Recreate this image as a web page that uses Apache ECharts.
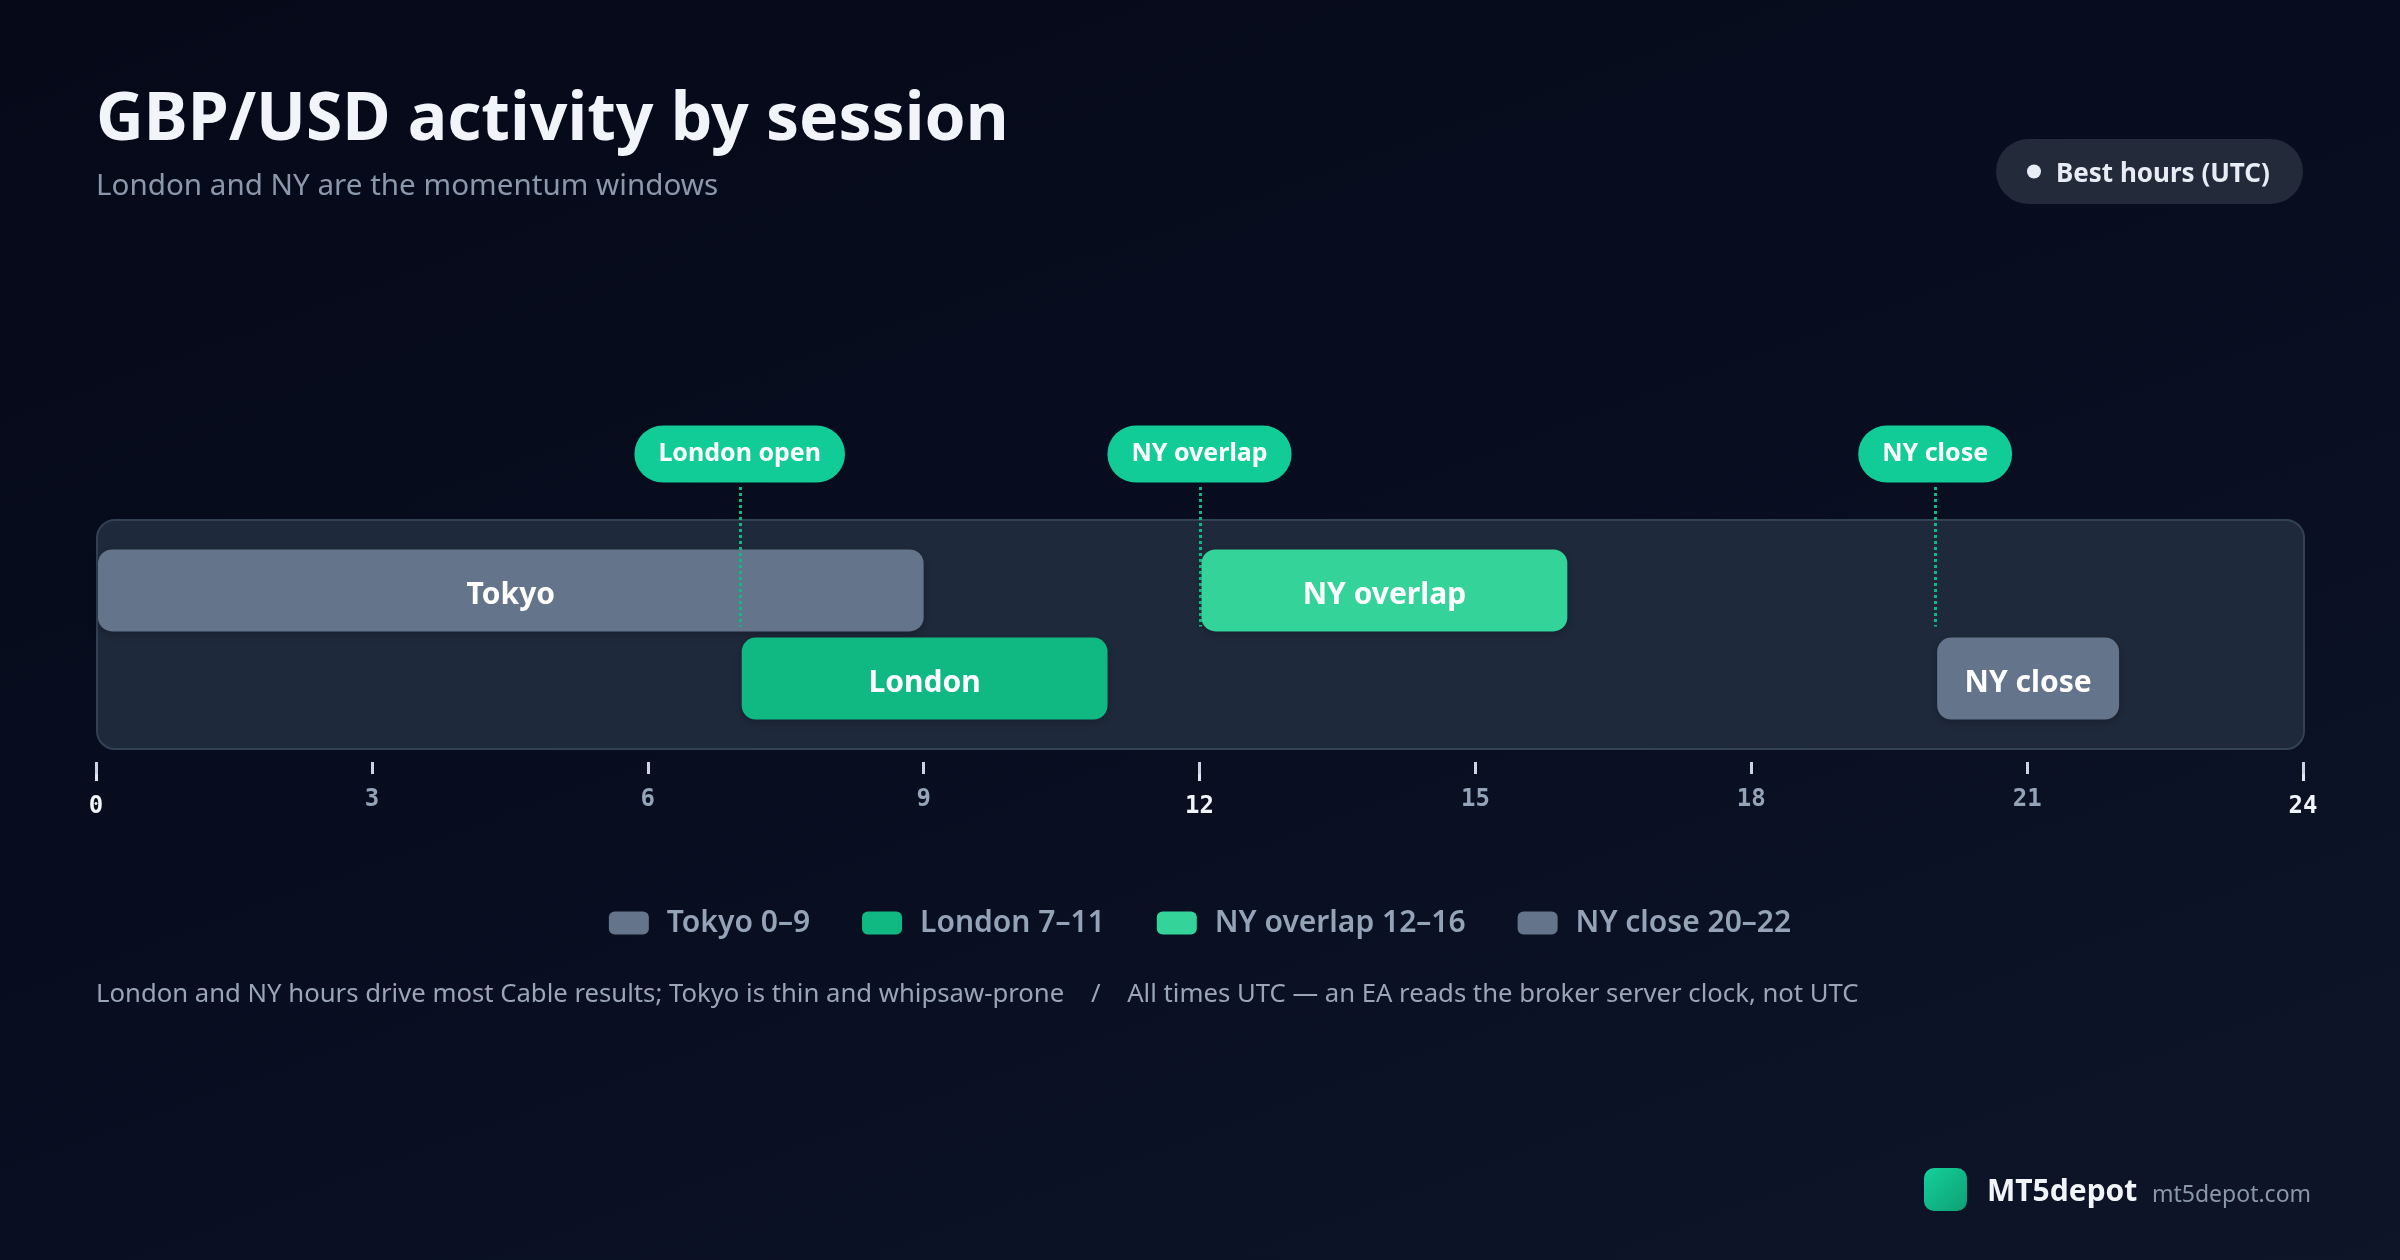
<!DOCTYPE html>
<html>
<head>
<meta charset="utf-8">
<script src="https://cdn.jsdelivr.net/npm/echarts@6/dist/echarts.min.js"></script>
<style>
  html, body { margin: 0; padding: 0; width: 2400px; height: 1260px; overflow: hidden;
    background: linear-gradient(160deg, #050918 0%, #080e20 50%, #0e1528 100%); }
  #chart { width: 2400px; height: 1260px; }
</style>
</head>
<body>
<div id="chart"></div>
<script>
// ---- data ----
const sessionNames  = ['Tokyo', 'London', 'NY overlap', 'NY close'];
const sessionStart  = [0, 7, 12, 20];
const sessionEnd    = [9, 11, 16, 22];
const sessionRow    = [0, 1, 0, 1];
const sessionColors = ['#64748b', '#10b981', '#34d399', '#64748b'];
const markerHours   = [7, 12, 20];
const markerLabels  = ['London open', 'NY overlap', 'NY close'];
const hourMin = 0, hourMax = 24, minorStep = 3, majorStep = 12;

const FONT = '"Noto Sans", "Open Sans", sans-serif';
const MONO = '"DejaVu Sans Mono", monospace';
const rowMin = -0.8, rowMax = 1.8;

const chart = echarts.init(document.getElementById('chart'), null, { renderer: 'canvas' });

function legendLabel(name) {
  const i = sessionNames.indexOf(name);
  return name + ' ' + sessionStart[i] + '\u2013' + sessionEnd[i];
}

const barSeries = sessionNames.map((name, i) => ({
  type: 'custom',
  name: name,
  xAxisIndex: 0,
  yAxisIndex: 0,
  itemStyle: { color: sessionColors[i] },
  encode: { x: [0, 1], y: 2 },
  data: [[sessionStart[i], sessionEnd[i], sessionRow[i]]],
  z: 3,
  renderItem: function (params, api) {
    const s = api.coord([api.value(0), api.value(2)]);
    const e = api.coord([api.value(1), api.value(2)]);
    const h = api.size([0, 1])[1] * 0.93;
    return {
      type: 'rect',
      shape: { x: s[0] + 2, y: s[1] - h / 2 + 1, width: e[0] - s[0] - 2, height: h, r: 14 },
      style: { fill: api.visual('color'), shadowBlur: 10, shadowOffsetY: 3, shadowColor: 'rgba(0,0,0,0.25)' },
      textContent: {
        style: { text: name, fill: '#ffffff', font: 'bold 30px ' + FONT }
      },
      textConfig: { position: 'inside', offset: [0, 5] }
    };
  }
}));

const markerSeries = {
  type: 'custom',
  name: 'markers',
  xAxisIndex: 0,
  yAxisIndex: 0,
  clip: false,
  z: 5,
  encode: { x: 0, y: 1 },
  data: markerHours.map((h) => [h, 0]),
  renderItem: function (params, api) {
    const top = api.coord([api.value(0), rowMin]);
    const row = api.coord([api.value(0), api.value(1)]);
    const h = api.size([0, 1])[1] * 0.93;
    const x = Math.round(top[0]) + 0.5;
    const bubbleY = top[1] - 65;
    return {
      type: 'group',
      children: [
        {
          type: 'line',
          shape: { x1: x, y1: bubbleY + 33, x2: x, y2: row[1] + h / 2 - 4 },
          style: { stroke: '#10b981', lineWidth: 3, lineDash: [3, 3] }
        },
        {
          type: 'text',
          x: top[0],
          y: bubbleY,
          style: {
            text: markerLabels[params.dataIndex],
            fill: '#ffffff',
            font: 'bold 25px ' + FONT,
            align: 'center',
            verticalAlign: 'middle',
            lineHeight: 25,
            backgroundColor: '#11cc96',
            padding: [19, 24, 13, 24],
            borderRadius: 29
          }
        }
      ]
    };
  }
};

const option = {
  backgroundColor: 'transparent',
  animation: false,
  grid: { left: 96, right: 97, top: 519, bottom: 512, containLabel: false },
  xAxis: [
    {
      type: 'value', min: hourMin, max: hourMax, interval: majorStep,
      position: 'bottom', offset: 14,
      axisLine: { show: false, onZero: false },
      splitLine: { show: false },
      axisTick: { show: true, length: 19, lineStyle: { color: '#e2e8f0', width: 3 } },
      axisLabel: { color: '#f1f5f9', fontFamily: MONO, fontWeight: 'bold', fontSize: 24, margin: 33 }
    },
    {
      type: 'value', min: hourMin, max: hourMax, interval: minorStep,
      position: 'bottom', offset: 14,
      axisLine: { show: false, onZero: false },
      splitLine: { show: false },
      axisTick: { show: true, length: 12, lineStyle: { color: '#cbd5e1', width: 3 } },
      axisLabel: {
        color: '#94a3b8', fontFamily: MONO, fontWeight: 'bold', fontSize: 24, margin: 26,
        formatter: (v) => (v % majorStep === 0 ? '' : String(v))
      }
    }
  ],
  yAxis: {
    type: 'value', min: rowMin, max: rowMax, inverse: true, show: false
  },
  legend: {
    data: sessionNames,
    left: 'center',
    top: 903,
    icon: 'roundRect',
    itemWidth: 40,
    itemHeight: 23,
    itemGap: 52,
    selectedMode: false,
    formatter: legendLabel,
    textStyle: { color: '#94a3b8', fontSize: 30, fontWeight: 600, fontFamily: FONT, padding: [0, 0, 0, 13] }
  },
  graphic: [
    {
      type: 'rect', left: 96, top: 519, z: 0,
      shape: { width: 2207, height: 229, r: 18 },
      style: { fill: '#1e293b', stroke: '#334155', lineWidth: 2 }
    },
    {
      type: 'text', x: 96, y: 121,
      style: { text: 'GBP/USD activity by session', fill: '#f1f5f9', font: 'bold 66px ' + FONT, verticalAlign: 'middle' }
    },
    {
      type: 'text', x: 96, y: 187,
      style: { text: 'London and NY are the momentum windows', fill: '#8b97ab', font: '29.6px ' + FONT, verticalAlign: 'middle' }
    },
    {
      type: 'group', x: 1996, y: 139,
      children: [
        { type: 'rect', shape: { x: 0, y: 0, width: 307, height: 65, r: 32.5 }, style: { fill: '#232a3a' } },
        { type: 'circle', shape: { cx: 38, cy: 32.5, r: 7 }, style: { fill: '#e8edf5' } },
        { type: 'text', x: 60, y: 35.5, style: { text: 'Best hours (UTC)', fill: '#e8edf5', font: 'bold 26px ' + FONT, verticalAlign: 'middle' } }
      ]
    },
    {
      type: 'text', x: 96, y: 995,
      style: {
        text: 'London and NY hours drive most Cable results; Tokyo is thin and whipsaw-prone    /    All times UTC \u2014 an EA reads the broker server clock, not UTC',
        fill: '#9aa5b8', font: '25.7px ' + FONT, verticalAlign: 'middle'
      }
    },
    {
      type: 'rect', x: 1924, y: 1168,
      shape: { width: 43, height: 43, r: 10 },
      style: {
        fill: new echarts.graphic.LinearGradient(0, 0, 1, 1, [
          { offset: 0, color: '#14d19a' }, { offset: 1, color: '#0e9f74' }
        ])
      }
    },
    {
      type: 'text', x: 1987, y: 1192,
      style: { text: 'MT5depot', fill: '#f1f5f9', font: 'bold 30px ' + FONT, verticalAlign: 'middle' }
    },
    {
      type: 'text', x: 2152, y: 1195,
      style: { text: 'mt5depot.com', fill: '#8b97ab', font: '23px ' + FONT, verticalAlign: 'middle' }
    }
  ],
  series: barSeries.concat([markerSeries])
};

chart.setOption(option);
</script>
</body>
</html>
